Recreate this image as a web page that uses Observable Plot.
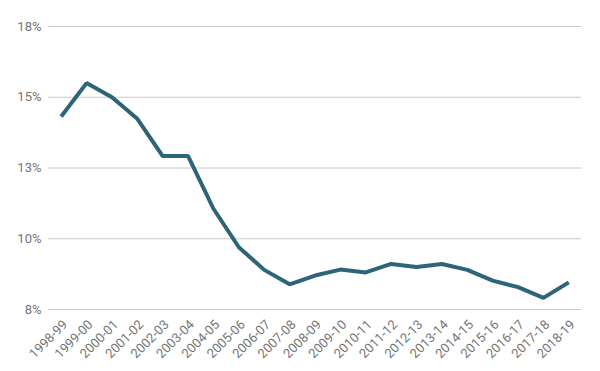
<!DOCTYPE html>
<html>
<head>
<meta charset="utf-8">
<script src="https://cdn.jsdelivr.net/npm/d3@7"></script>
<script src="https://cdn.jsdelivr.net/npm/@observablehq/plot@0.6"></script>
<style>
  html, body { margin: 0; padding: 0; background: #fff; }
  #chart svg { display: block; }
</style>
</head>
<body>
<div id="chart"></div>
<script>
const years = ["1998-99","1999-00","2000-01","2001-02","2002-03","2003-04","2004-05","2005-06","2006-07","2007-08","2008-09","2009-10","2010-11","2011-12","2012-13","2013-14","2014-15","2015-16","2016-17","2017-18","2018-19"];
const values = [14.32, 15.5, 15.0, 14.24, 12.92, 12.92, 11.06, 9.7, 8.9, 8.39, 8.7, 8.91, 8.81, 9.11, 9.0, 9.11, 8.9, 8.52, 8.29, 7.91, 8.46];
const yTicks = [7.5, 10, 12.5, 15, 17.5];
const yTickLabels = ["8%", "10%", "13%", "15%", "18%"];

const data = years.map((y, i) => ({year: y, value: values[i]}));

const chart = Plot.plot({
  width: 600,
  height: 371,
  marginLeft: 48,
  marginRight: 19,
  marginTop: 26,
  marginBottom: 62,
  style: {fontFamily: "Roboto, sans-serif", fontSize: "13px", background: "#fff"},
  x: {type: "point", domain: years, padding: 0.5, round: false, label: null},
  y: {domain: [7.5, 17.5], label: null},
  marks: [
    Plot.gridY(yTicks, {stroke: "#c8c8c8", strokeOpacity: 1, strokeWidth: 1}),
    Plot.axisY(yTicks, {tickSize: 0, tickPadding: 7, fill: "#757575", fontSize: 13, tickFormat: (d) => yTickLabels[yTicks.indexOf(d)], label: null}),
    Plot.axisX(years, {tickSize: 0, tickRotate: -45, tickPadding: 8, dx: 4, dy: 5, fill: "#757575", fontSize: 13, label: null}),
    Plot.line(data, {x: "year", y: "value", stroke: "#2b6577", strokeWidth: 4, strokeLinejoin: "miter", strokeLinecap: "butt"})
  ]
});
document.getElementById("chart").appendChild(chart);
</script>
</body>
</html>
